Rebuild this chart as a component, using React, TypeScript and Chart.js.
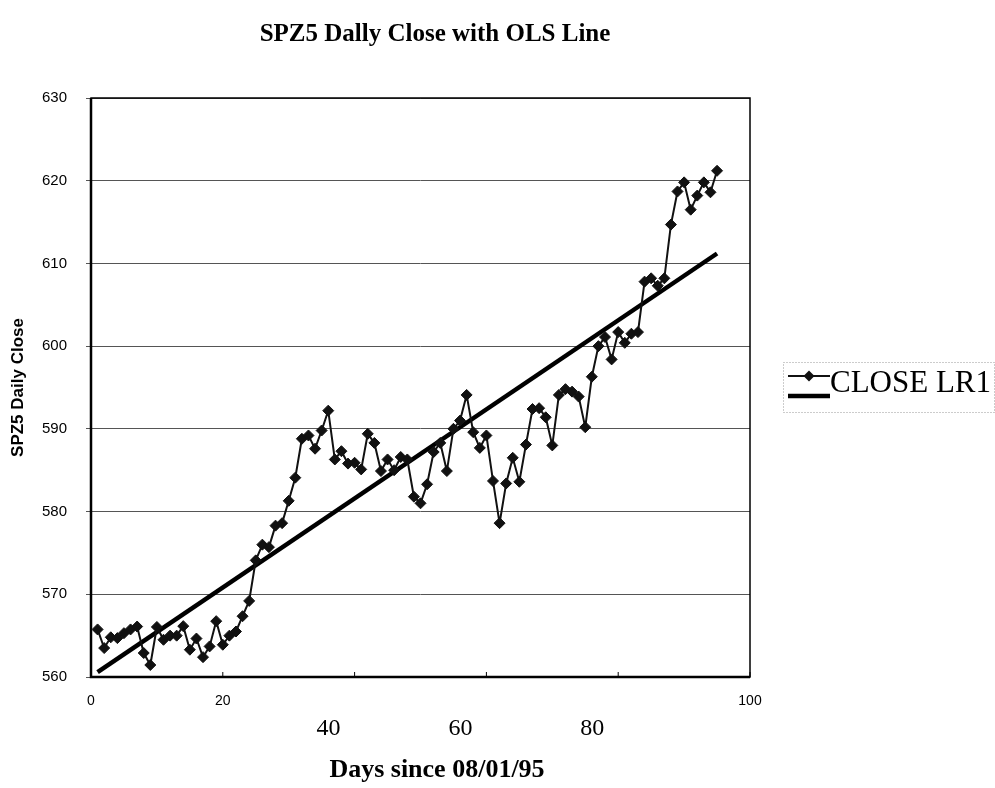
import React, { useEffect, useRef } from 'react';
import { Chart, registerables } from 'chart.js';

Chart.register(...registerables);

const titleText = 'SPZ5 Dally Close with OLS Line';
const xAxisTitle = 'Days since 08/01/95';
const yAxisTitle = 'SPZ5 Daily Close';
const seriesLabels = ['CLOSE', 'LR1'];

// Daily close, days 1..95
const closeValues = [
  565.75, 563.5, 564.8, 564.7, 565.3, 565.75, 566.1, 562.9, 561.45, 566.05,
  564.5, 565.0, 565.0, 566.15, 563.3, 564.65, 562.4, 563.7, 566.75, 563.9,
  565.0, 565.5, 567.35, 569.2, 574.1, 576.0, 575.7, 578.3, 578.6, 581.3,
  584.1, 588.8, 589.2, 587.6, 589.8, 592.2, 586.3, 587.3, 585.8, 585.9,
  585.1, 589.4, 588.3, 584.9, 586.3, 585.0, 586.6, 586.3, 581.8, 581.0,
  583.3, 587.2, 588.3, 584.9, 590.0, 591.0, 594.1, 589.6, 587.7, 589.2,
  583.7, 578.6, 583.4, 586.5, 583.6, 588.1, 592.4, 592.5, 591.4, 588.0,
  594.1, 594.8, 594.5, 593.9, 590.2, 596.3, 600.0, 601.1, 598.4, 601.7,
  600.4, 601.5, 601.7, 607.8, 608.2, 607.3, 608.2, 614.7, 618.7, 619.8,
  616.5, 618.2, 619.8, 618.6, 621.2,
];

// OLS line end points
const lr1Days = [1, 95];
const lr1Values = [560.6, 611.2];

const xMainTickLabels = [0, 20, 100];
const xShiftedTickLabels = [40, 60, 80];

const annotPlugin = {
  id: 'annot',
  beforeDatasetsDraw(chart: any) {
    const { ctx, chartArea: ca, scales } = chart;
    ctx.save();
    ctx.strokeStyle = '#000';
    ctx.lineWidth = 1.5;
    ctx.strokeRect(ca.left, ca.top, ca.right - ca.left, ca.bottom - ca.top);
    ctx.lineWidth = 2.5;
    ctx.beginPath();
    ctx.moveTo(ca.left, ca.top);
    ctx.lineTo(ca.left, ca.bottom);
    ctx.lineTo(ca.right, ca.bottom);
    ctx.stroke();
    // inward x tick marks
    ctx.lineWidth = 1;
    const xs = scales.x;
    xs.ticks.forEach((t: any) => {
      const px = xs.getPixelForValue(t.value);
      ctx.beginPath();
      ctx.moveTo(px, ca.bottom - 5);
      ctx.lineTo(px, ca.bottom);
      ctx.stroke();
    });
    ctx.restore();
  },
  afterDraw(chart: any) {
    const { ctx, chartArea: ca, scales } = chart;
    ctx.save();
    ctx.fillStyle = '#000';
    ctx.textAlign = 'center';
    ctx.textBaseline = 'middle';

    // main title
    ctx.font = 'bold 25px "Liberation Serif"';
    ctx.fillText(titleText, ca.left + 344, ca.top - 63);

    // x axis title
    ctx.font = 'bold 26px "Liberation Serif"';
    ctx.fillText(xAxisTitle, ca.left + 346, ca.bottom + 93);

    // displaced tick labels 40 / 60 / 80
    ctx.font = '24px "Liberation Serif"';
    xShiftedTickLabels.forEach((v) => {
      ctx.fillText(String(v), scales.x.getPixelForValue(v) - 26, ca.bottom + 52);
    });

    // legend
    const bx = ca.right + 33;
    const by = ca.top + 264;
    const bw = 211;
    const bh = 50;
    ctx.strokeStyle = '#999';
    ctx.lineWidth = 1;
    ctx.setLineDash([1, 2]);
    ctx.strokeRect(bx + 0.5, by + 0.5, bw, bh);
    ctx.setLineDash([]);
    const sx0 = bx + 5;
    const sx1 = bx + 47;
    ctx.strokeStyle = '#111';
    ctx.lineWidth = 2;
    ctx.beginPath();
    ctx.moveTo(sx0, by + 14);
    ctx.lineTo(sx1, by + 14);
    ctx.stroke();
    ctx.fillStyle = '#111';
    const cx = (sx0 + sx1) / 2;
    const cy = by + 14;
    ctx.beginPath();
    ctx.moveTo(cx, cy - 5.5);
    ctx.lineTo(cx + 5.5, cy);
    ctx.lineTo(cx, cy + 5.5);
    ctx.lineTo(cx - 5.5, cy);
    ctx.closePath();
    ctx.fill();
    ctx.strokeStyle = '#000';
    ctx.lineWidth = 4.5;
    ctx.beginPath();
    ctx.moveTo(sx0, by + 34);
    ctx.lineTo(sx1, by + 34);
    ctx.stroke();
    ctx.fillStyle = '#000';
    ctx.font = '31px "Liberation Serif"';
    ctx.textAlign = 'left';
    ctx.textBaseline = 'alphabetic';
    ctx.fillText(seriesLabels.join(' '), sx1, by + 30);
    ctx.restore();
  },
};

export default function App() {
  const ref = useRef<HTMLCanvasElement | null>(null);
  useEffect(() => {
    if (!ref.current) return;
    const chart = new Chart(ref.current, {
      type: 'line',
      data: {
        datasets: [
          {
            label: seriesLabels[0],
            data: closeValues.map((v, i) => ({ x: i + 1, y: v })),
            borderColor: '#111',
            borderWidth: 2,
            pointStyle: 'rectRot',
            pointRadius: 5.5,
            pointBackgroundColor: '#111',
            pointBorderColor: '#111',
            pointBorderWidth: 1,
            tension: 0,
            order: 0,
          },
          {
            label: seriesLabels[1],
            data: lr1Days.map((d, i) => ({ x: d, y: lr1Values[i] })),
            borderColor: '#000',
            borderWidth: 4.5,
            pointRadius: 0,
            tension: 0,
            order: 1,
          },
        ],
      },
      options: {
        responsive: false,
        animation: false,
        devicePixelRatio: 1,
        layout: { padding: { left: 0, right: 245, top: 98, bottom: 0 } },
        plugins: {
          legend: { display: false },
          tooltip: { enabled: false },
          title: { display: false },
        },
        scales: {
          x: {
            type: 'linear',
            min: 0,
            max: 100,
            ticks: {
              stepSize: 20,
              autoSkip: false,
              maxRotation: 0,
              padding: 16,
              color: '#000',
              font: { family: 'Liberation Sans', size: 14 },
              callback: (v: any) => (xMainTickLabels.includes(Number(v)) ? String(v) : ''),
            },
            grid: { display: false, drawTicks: false },
            border: { display: false },
            afterFit: (s: any) => {
              s.height = 111;
            },
          },
          y: {
            min: 560,
            max: 630,
            ticks: {
              stepSize: 10,
              padding: 19,
              color: '#000',
              font: { family: 'Liberation Sans', size: 15 },
            },
            grid: { color: '#555', lineWidth: 1, tickLength: 5, drawTicks: true },
            border: { display: false },
            title: {
              display: true,
              text: yAxisTitle,
              color: '#000',
              font: { family: 'Liberation Sans', size: 17, weight: 'bold' },
              padding: { top: 8, bottom: 0 },
            },
            afterFit: (s: any) => {
              s.width = 91;
            },
          },
        },
      },
      plugins: [annotPlugin],
    });
    return () => chart.destroy();
  }, []);
  return (
    <div style={{ position: 'absolute', left: 0, top: 0, width: 995, height: 788 }}>
      <canvas ref={ref} width={995} height={788} />
    </div>
  );
}
